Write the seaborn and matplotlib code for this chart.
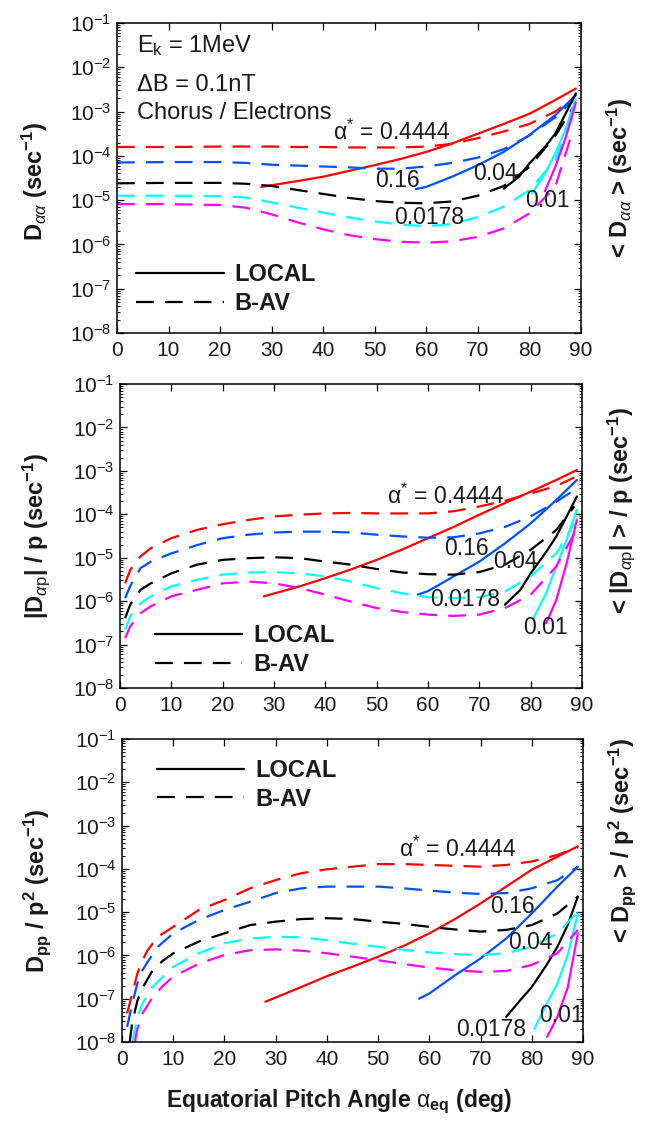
import numpy as np
import pandas as pd
import matplotlib
matplotlib.use("Agg")
import matplotlib.pyplot as plt
import seaborn as sns
from matplotlib.ticker import LogLocator, NullFormatter, LogFormatterSciNotation
from matplotlib.lines import Line2D

# ---------------- data (log10 of the diffusion coefficient) -------------
ALPHA_LABELS = ["0.4444", "0.16", "0.04", "0.0178", "0.01"]

# LOCAL (solid) pitch-angle grids, shared by the three panels
LOC_ANGLE_4444 = [28, 35, 40, 45, 50, 55, 60, 65, 70, 75, 80, 85, 89]
LOC_ANGLE_16 = [58, 60, 65, 70, 75, 80, 85, 89]
LOC_ANGLE_04 = [75, 78, 80, 83, 85, 87, 89]
LOC_ANGLE_0178 = [80.5, 83, 85, 87, 89]
LOC_ANGLE_01 = [83, 85, 87, 89]

# ---- panel 1 : D_aa
TOP_BAV_ANGLE = [0, 10, 20, 25, 30, 35, 40, 45, 50, 55, 60, 65, 70, 75, 80, 85, 88.5]
TOP_BAV_4444 = [-3.80, -3.80, -3.79, -3.79, -3.79, -3.80, -3.80, -3.81, -3.81, -3.81, -3.79, -3.73, -3.60, -3.45, -3.28, -3.00, -2.70]
TOP_BAV_16 = [-4.15, -4.14, -4.14, -4.16, -4.20, -4.22, -4.24, -4.26, -4.29, -4.29, -4.24, -4.16, -4.04, -3.85, -3.54, -3.13, -2.75]
TOP_BAV_04 = [-4.62, -4.61, -4.61, -4.63, -4.68, -4.77, -4.86, -4.95, -5.02, -5.06, -5.07, -5.03, -4.90, -4.68, -4.25, -3.55, -2.90]
TOP_BAV_0178 = [-4.90, -4.90, -4.91, -4.94, -5.05, -5.17, -5.28, -5.39, -5.48, -5.55, -5.59, -5.54, -5.38, -5.15, -4.77, -4.10, -3.10]
TOP_BAV_01 = [-5.09, -5.09, -5.11, -5.17, -5.32, -5.50, -5.66, -5.79, -5.88, -5.94, -5.96, -5.93, -5.83, -5.64, -5.30, -4.70, -3.40]
TOP_LOC_4444 = [-4.70, -4.57, -4.47, -4.34, -4.21, -4.07, -3.91, -3.72, -3.50, -3.28, -3.05, -2.74, -2.48]
TOP_LOC_16 = [-4.75, -4.70, -4.47, -4.21, -3.91, -3.53, -3.08, -2.63]
TOP_LOC_04 = [-4.74, -4.47, -4.17, -3.80, -3.50, -3.05, -2.59]
TOP_LOC_0178 = [-4.85, -4.40, -3.95, -3.40, -2.72]
TOP_LOC_01 = [-4.80, -4.25, -3.60, -2.80]

# ---- panel 2 : |D_ap| / p
MID_BAV_ANGLE = [1, 2, 4, 6, 10, 15, 20, 25, 30, 35, 40, 45, 50, 55, 60, 65, 70, 75, 80, 85, 88.5]
MID_BAV_4444 = [-5.59, -5.28, -4.97, -4.78, -4.55, -4.36, -4.23, -4.13, -4.05, -4.01, -3.98, -3.97, -3.98, -3.98, -3.98, -3.93, -3.82, -3.69, -3.52, -3.35, -3.15]
MID_BAV_16 = [-5.93, -5.65, -5.24, -5.09, -4.90, -4.71, -4.55, -4.47, -4.42, -4.40, -4.40, -4.42, -4.47, -4.51, -4.54, -4.53, -4.44, -4.29, -4.05, -3.71, -3.44]
MID_BAV_04 = [-6.39, -6.08, -5.74, -5.59, -5.36, -5.16, -5.05, -5.01, -4.99, -5.01, -5.09, -5.16, -5.26, -5.34, -5.38, -5.39, -5.33, -5.16, -4.82, -4.36, -3.82]
MID_BAV_0178 = [-6.66, -6.35, -6.05, -5.89, -5.66, -5.51, -5.39, -5.34, -5.33, -5.36, -5.43, -5.55, -5.70, -5.82, -5.91, -5.93, -5.91, -5.78, -5.43, -4.90, -4.21]
MID_BAV_01 = [-6.85, -6.58, -6.28, -6.12, -5.89, -5.74, -5.59, -5.55, -5.59, -5.70, -5.85, -6.01, -6.16, -6.25, -6.31, -6.34, -6.31, -6.16, -5.85, -5.20, -4.44]
MID_LOC_4444 = [-5.89, -5.66, -5.47, -5.27, -5.05, -4.81, -4.55, -4.29, -4.01, -3.74, -3.48, -3.21, -2.98]
MID_LOC_16 = [-5.85, -5.77, -5.43, -5.09, -4.67, -4.21, -3.67, -3.21]
MID_LOC_04 = [-6.08, -5.74, -5.36, -4.87, -4.51, -4.05, -3.59]
MID_LOC_0178 = [-6.40, -5.82, -5.20, -4.59, -3.90]
MID_LOC_01 = [-6.51, -5.97, -5.13, -4.13]

# ---- panel 3 : D_pp / p^2
BOT_BAV_ANGLE = [1, 2, 3, 4, 5, 7, 10, 15, 20, 25, 30, 35, 40, 45, 50, 55, 60, 65, 70, 75, 80, 85, 89]
BOT_BAV_4444 = [-7.34, -6.88, -6.42, -6.11, -5.88, -5.57, -5.34, -4.95, -4.72, -4.45, -4.26, -4.10, -4.01, -3.95, -3.89, -3.89, -3.91, -3.93, -3.95, -3.91, -3.83, -3.68, -3.50]
BOT_BAV_16 = [-7.65, -7.11, -6.65, -6.34, -6.15, -5.80, -5.49, -5.18, -4.95, -4.76, -4.56, -4.45, -4.41, -4.41, -4.41, -4.45, -4.50, -4.55, -4.58, -4.56, -4.45, -4.26, -3.95]
BOT_BAV_ANGLE_04 = [1.5, 2, 3, 4, 6, 8, 10, 15, 20, 25, 30, 35, 40, 45, 50, 55, 60, 65, 70, 75, 80, 85, 89]
BOT_BAV_04 = [-8.00, -7.55, -7.05, -6.75, -6.34, -6.12, -5.95, -5.68, -5.49, -5.30, -5.22, -5.16, -5.14, -5.16, -5.22, -5.27, -5.34, -5.40, -5.45, -5.41, -5.30, -5.03, -4.64]
BOT_BAV_ANGLE_0178 = [2, 3, 4, 6, 8, 10, 15, 20, 25, 30, 35, 40, 45, 50, 55, 60, 65, 70, 75, 80, 85, 89]
BOT_BAV_0178 = [-8.00, -7.45, -7.11, -6.73, -6.49, -6.26, -5.95, -5.72, -5.61, -5.57, -5.58, -5.65, -5.73, -5.80, -5.87, -5.93, -5.97, -5.99, -5.95, -5.80, -5.49, -4.99]
BOT_BAV_ANGLE_01 = [2.5, 3, 4, 6, 8, 10, 15, 20, 25, 30, 35, 40, 45, 50, 55, 60, 65, 70, 75, 80, 85, 89]
BOT_BAV_01 = [-8.00, -7.70, -7.34, -6.96, -6.70, -6.49, -6.19, -5.99, -5.88, -5.86, -5.89, -5.95, -6.03, -6.11, -6.20, -6.28, -6.34, -6.38, -6.36, -6.22, -5.95, -5.41]
BOT_LOC_4444 = [-7.07, -6.73, -6.48, -6.26, -6.03, -5.78, -5.49, -5.16, -4.80, -4.41, -4.02, -3.72, -3.48]
BOT_LOC_16 = [-7.00, -6.88, -6.46, -6.07, -5.61, -5.03, -4.41, -3.95]
BOT_LOC_04 = [-7.42, -7.00, -6.73, -6.20, -5.80, -5.30, -4.64]
BOT_LOC_0178 = [-7.70, -7.10, -6.65, -6.00, -5.03]
BOT_LOC_01 = [-7.88, -7.42, -6.75, -5.49]

# curve labels: (text, angle, log10 value of baseline)
ASTAR = r"$\mathrm{\alpha}^{*}$ = 0.4444"
TOP_LABELS = [(ASTAR, 53.4, -3.65), ("0.16", 54.3, -4.71), ("0.04", 73.3, -4.55),
              ("0.0178", 60.6, -5.53), ("0.01", 83.5, -5.15)]
MID_LABELS = [(ASTAR, 63.4, -3.75), ("0.16", 67.4, -4.93), ("0.04", 77.1, -5.24),
              ("0.0178", 67.3, -6.12), ("0.01", 82.8, -6.75)]
BOT_LABELS = [(ASTAR, 65.6, -3.72), ("0.16", 76.2, -5.01), ("0.04", 79.7, -5.86),
              ("0.0178", 72.1, -7.87), ("0.01", 85.7, -7.54)]

PALETTE = {"0.4444": "#ff0000", "0.16": "#0050ff", "0.04": "#000000",
           "0.0178": "#00ffff", "0.01": "#ff00ff"}

# ---------------- style ----------------
sns.set_theme(style="ticks")
plt.rcParams["font.family"] = ["Liberation Sans", "DejaVu Sans"]
plt.rcParams["mathtext.fontset"] = "custom"
plt.rcParams["mathtext.rm"] = "Liberation Sans"
plt.rcParams["mathtext.it"] = "Liberation Sans:italic"
plt.rcParams["mathtext.bf"] = "Liberation Sans:bold"
plt.rcParams["axes.edgecolor"] = "black"
plt.rcParams["text.color"] = "#1a1a1a"

DASH = (8, 5)
LW = 1.6


def long_frame(series):
    parts = []
    for alpha, kind, ang, logv in series:
        parts.append(pd.DataFrame({"angle": ang, "D": np.power(10.0, np.asarray(logv)),
                                   "alpha": alpha, "kind": kind}))
    return pd.concat(parts, ignore_index=True)


def panel_series(bav, loc):
    s = []
    for a, (ang, v) in zip(ALPHA_LABELS, bav):
        s.append((a, "B-AV", ang, v))
    loc_angles = [LOC_ANGLE_4444, LOC_ANGLE_16, LOC_ANGLE_04, LOC_ANGLE_0178, LOC_ANGLE_01]
    for a, ang, v in zip(ALPHA_LABELS, loc_angles, loc):
        s.append((a, "LOCAL", ang, v))
    return long_frame(s)


frames = [
    panel_series([(TOP_BAV_ANGLE, TOP_BAV_4444), (TOP_BAV_ANGLE, TOP_BAV_16), (TOP_BAV_ANGLE, TOP_BAV_04),
                  (TOP_BAV_ANGLE, TOP_BAV_0178), (TOP_BAV_ANGLE, TOP_BAV_01)],
                 [TOP_LOC_4444, TOP_LOC_16, TOP_LOC_04, TOP_LOC_0178, TOP_LOC_01]),
    panel_series([(MID_BAV_ANGLE, MID_BAV_4444), (MID_BAV_ANGLE, MID_BAV_16), (MID_BAV_ANGLE, MID_BAV_04),
                  (MID_BAV_ANGLE, MID_BAV_0178), (MID_BAV_ANGLE, MID_BAV_01)],
                 [MID_LOC_4444, MID_LOC_16, MID_LOC_04, MID_LOC_0178, MID_LOC_01]),
    panel_series([(BOT_BAV_ANGLE, BOT_BAV_4444), (BOT_BAV_ANGLE, BOT_BAV_16), (BOT_BAV_ANGLE_04, BOT_BAV_04),
                  (BOT_BAV_ANGLE_0178, BOT_BAV_0178), (BOT_BAV_ANGLE_01, BOT_BAV_01)],
                 [BOT_LOC_4444, BOT_LOC_16, BOT_LOC_04, BOT_LOC_0178, BOT_LOC_01]),
]
labels_all = [TOP_LABELS, MID_LABELS, BOT_LABELS]

left_labels = [r"D$_{\alpha\alpha}$ (sec$^{\mathbf{-1}}$)",
               r"|D$_{\alpha\mathrm{p}}$| / p (sec$^{\mathbf{-1}}$)",
               r"D$_{\mathbf{pp}}$ / p$^{\mathbf{2}}$ (sec$^{\mathbf{-1}}$)"]
right_labels = [r"< D$_{\alpha\alpha}$ > (sec$^{\mathbf{-1}}$)",
                r"< |D$_{\alpha\mathrm{p}}$| > / p (sec$^{\mathbf{-1}}$)",
                r"< D$_{\mathbf{pp}}$ > / p$^{\mathbf{2}}$ (sec$^{\mathbf{-1}}$)"]

W, H = 657, 1122
boxes = [(117, 581, 23, 333), (120, 582, 384, 688), (122, 583, 739, 1042)]
left_lab_pos = [(-0.177, 0.49), (-0.182, 0.5), (-0.184, 0.5)]
right_lab_pos = [(1.084, 0.50), (1.084, 0.585), (1.084, 0.665)]
legend_pos = [(0.042, 0.141, "center left"), (0.076, 0.124, "center left"), (0.076, 0.849, "center left")]

fig = plt.figure(figsize=(W / 100, H / 100), dpi=100)
for i, (x0, x1, yt, yb) in enumerate(boxes):
    ax = fig.add_axes([x0 / W, (H - yb) / H, (x1 - x0) / W, (yb - yt) / H])
    ax.set_yscale("log")
    sns.lineplot(data=frames[i], x="angle", y="D", hue="alpha", style="kind",
                 hue_order=ALPHA_LABELS, palette=PALETTE, style_order=["LOCAL", "B-AV"],
                 dashes={"LOCAL": "", "B-AV": DASH}, estimator=None, sort=False,
                 legend=False, linewidth=LW, ax=ax)
    ax.set_xlim(0, 90)
    ax.set_ylim(1e-8, 1e-1)
    ax.set_xticks(range(0, 91, 10))
    ax.yaxis.set_major_locator(LogLocator(base=10, numticks=20))
    ax.yaxis.set_major_formatter(LogFormatterSciNotation())
    ax.yaxis.set_minor_locator(LogLocator(base=10, subs=np.arange(2, 10), numticks=100))
    ax.yaxis.set_minor_formatter(NullFormatter())
    ax.tick_params(which="both", direction="in", top=True, right=True, bottom=True, left=True,
                   colors="black", labelcolor="#1a1a1a")
    ax.tick_params(which="major", length=5, width=0.9, labelsize=15)
    ax.tick_params(which="minor", length=2.5, width=0.7)
    ax.tick_params(axis="x", pad=6)
    ax.tick_params(axis="y", pad=4)
    for sp in ax.spines.values():
        sp.set_linewidth(1.1)
        sp.set_color("black")
    ax.set_xlabel("")
    ax.set_ylabel("")

    lx, ly = left_lab_pos[i]
    ax.text(lx, ly, left_labels[i], transform=ax.transAxes, rotation=90, ha="center", va="center",
            fontsize=17, fontweight="bold")
    rx, ry = right_lab_pos[i]
    ax.text(rx, ry, right_labels[i], transform=ax.transAxes, rotation=90, ha="center", va="center",
            fontsize=17, fontweight="bold")

    for txt, xa, ylog in labels_all[i]:
        ax.text(xa, 10.0 ** ylog, txt, ha="center", va="baseline", fontsize=16.5)

    handles = [Line2D([], [], color="black", lw=LW, ls="-"),
               Line2D([], [], color="black", lw=LW, ls=(0, DASH))]
    bx, by, loc = legend_pos[i]
    ax.legend(handles, ["LOCAL", "B-AV"], loc=loc, bbox_to_anchor=(bx, by), frameon=False,
              prop={"weight": "bold", "size": 17}, handlelength=3.7, handletextpad=0.45,
              labelspacing=0.25, borderpad=0, borderaxespad=0)

    if i == 0:
        ax.text(3.8, 10.0 ** -1.65, r"E$_{\mathrm{k}}$ = 1MeV", fontsize=17, va="baseline", ha="left")
        ax.text(3.8, 10.0 ** -2.53, "ΔB = 0.1nT", fontsize=17, va="baseline", ha="left")
        ax.text(3.8, 10.0 ** -3.17, "Chorus / Electrons", fontsize=17, va="baseline", ha="left")
    if i == 2:
        ax.text(0.47, -0.2145, r"Equatorial Pitch Angle $\mathrm{\alpha}_{\mathbf{eq}}$ (deg)",
                transform=ax.transAxes, ha="center", va="baseline", fontsize=16.5, fontweight="bold")

fig.savefig("out.png", dpi=100)
